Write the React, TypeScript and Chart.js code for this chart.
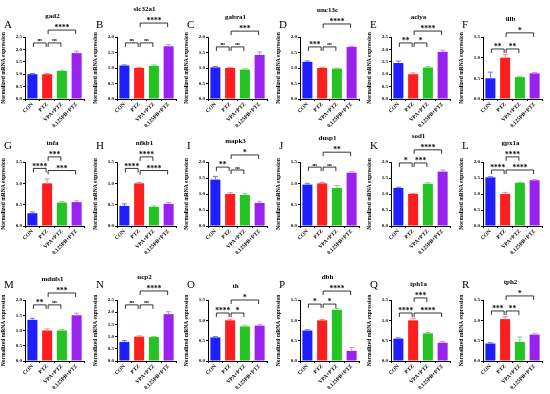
import React, { useEffect, useRef } from "react";
import { Chart, registerables } from "chart.js";
Chart.register(...registerables);

const categories = ["CON", "PTZ", "VPA+PTZ", "0.125PB+PTZ"];
const panelLetters = ["A", "B", "C", "D", "E", "F", "G", "H", "I", "J", "K", "L", "M", "N", "O", "P", "Q", "R"];
const geneNames = ["gad2", "slc32a1", "gabra1", "unc13c", "aclya", "illb", "tnfa", "nfkb1", "mapk3", "dusp1", "sod1", "gpx1a", "mdufs1", "ucp2", "th", "dbh", "tph1a", "tph2"];
const axisMax = [2.5, 2, 2, 2, 2.5, 1.5, 1.5, 1.5, 2, 1.5, 2, 2, 2, 2.5, 1.5, 1.5, 1.5, 1.5];
const yTitle = "Normalized mRNA expression";

const meanValues = [
  [1.0, 1.0, 1.13, 1.85],
  [1.08, 1.0, 1.07, 1.7],
  [1.02, 1.0, 0.95, 1.42],
  [1.2, 1.0, 0.98, 1.68],
  [1.45, 1.0, 1.27, 1.9],
  [0.5, 1.0, 0.53, 0.62],
  [0.3, 1.0, 0.55, 0.56],
  [0.47, 1.0, 0.45, 0.52],
  [1.45, 1.0, 0.97, 0.72],
  [0.97, 1.0, 0.89, 1.25],
  [1.19, 1.0, 1.32, 1.7],
  [1.52, 1.0, 1.35, 1.43],
  [1.35, 1.0, 1.0, 1.5],
  [0.78, 1.0, 0.98, 1.92],
  [0.58, 1.0, 0.85, 0.87],
  [0.75, 1.0, 1.26, 0.25],
  [0.55, 1.0, 0.68, 0.45],
  [0.43, 1.03, 0.47, 0.65],
];

const errorValues = [
  [0.03, 0.03, 0.03, 0.08],
  [0.02, 0.02, 0.03, 0.05],
  [0.03, 0.02, 0.02, 0.1],
  [0.03, 0.02, 0.02, 0.02],
  [0.08, 0.05, 0.04, 0.07],
  [0.15, 0.08, 0.02, 0.02],
  [0.03, 0.1, 0.02, 0.03],
  [0.05, 0.02, 0.02, 0.03],
  [0.1, 0.04, 0.04, 0.05],
  [0.03, 0.02, 0.06, 0.02],
  [0.02, 0.02, 0.03, 0.05],
  [0.02, 0.05, 0.02, 0.02],
  [0.05, 0.05, 0.03, 0.07],
  [0.06, 0.03, 0.02, 0.1],
  [0.02, 0.03, 0.03, 0.03],
  [0.02, 0.02, 0.03, 0.08],
  [0.02, 0.05, 0.02, 0.03],
  [0.02, 0.06, 0.12, 0.02],
];

// [from, to, label, level]
type Bracket = [number, number, string, number];
const brackets: Bracket[][] = [
  [[0, 1, "ns", 2.26], [1, 2, "ns", 2.26], [1, 3, "****", 2.78]],
  [[0, 1, "ns", 1.81], [1, 2, "ns", 1.81], [1, 3, "****", 2.45]],
  [[0, 1, "ns", 1.68], [1, 2, "ns", 1.68], [1, 3, "***", 2.19]],
  [[0, 1, "***", 1.68], [1, 2, "ns", 1.68], [1, 3, "****", 2.42]],
  [[0, 1, "**", 2.26], [1, 2, "*", 2.26], [1, 3, "****", 2.74]],
  [[0, 1, "**", 1.21], [1, 2, "**", 1.21], [1, 3, "*", 1.6]],
  [[0, 1, "****", 1.35], [1, 2, "***", 1.62], [1, 3, "***", 1.3]],
  [[0, 1, "****", 1.35], [1, 2, "****", 1.62], [1, 3, "****", 1.3]],
  [[0, 1, "**", 1.84], [1, 2, "ns", 1.75], [1, 3, "*", 2.22]],
  [[0, 1, "ns", 1.38], [1, 2, "ns", 1.38], [1, 3, "**", 1.73]],
  [[0, 1, "*", 1.97], [1, 2, "***", 1.97], [1, 3, "****", 2.38]],
  [[0, 1, "****", 1.75], [1, 2, "****", 2.16], [1, 3, "****", 1.75]],
  [[0, 1, "**", 1.84], [1, 2, "ns", 1.84], [1, 3, "***", 2.23]],
  [[0, 1, "ns", 2.3], [1, 2, "ns", 2.3], [1, 3, "****", 2.87]],
  [[0, 1, "****", 1.18], [1, 2, "*", 1.18], [1, 3, "*", 1.5]],
  [[0, 1, "*", 1.4], [1, 2, "*", 1.4], [1, 3, "****", 1.72]],
  [[0, 1, "****", 1.18], [1, 2, "***", 1.55], [1, 3, "****", 1.18]],
  [[0, 1, "***", 1.23], [1, 2, "**", 1.23], [1, 3, "*", 1.6]],
];

const barColors = ["#1e1eff", "#ff1e1e", "#22c322", "#9a22ee"];
const errColors = ["#7070ff", "#ff7a9a", "#70e070", "#c58cff"];

const SERIF = "'Liberation Serif', 'Times New Roman', serif";
const COL_W = 91.6;
const CANVAS_W = 91;
const rowTop = [0, 130, 262];
const rowHeight = [128, 125, 128];
const padTop = [37, 32, 38];
const letterY = [25, 16, 23];

function Panel({ idx }: { idx: number }) {
  const ref = useRef<HTMLCanvasElement>(null);
  const row = Math.floor(idx / 6);
  const col = idx % 6;
  const H = rowHeight[row];

  useEffect(() => {
    const vals = meanValues[idx];
    const errs = errorValues[idx];
    const brs = brackets[idx];
    const overlay = {
      id: "overlay" + idx,
      afterDatasetsDraw(chart: any) {
        const ctx = chart.ctx as CanvasRenderingContext2D;
        const xs = chart.scales.x;
        const ys = chart.scales.y;
        const meta = chart.getDatasetMeta(0);
        ctx.save();
        // error bars
        meta.data.forEach((bar: any, i: number) => {
          const base = ys.getPixelForValue(vals[i]);
          const top = ys.getPixelForValue(vals[i] + errs[i]);
          ctx.strokeStyle = errColors[i];
          ctx.lineWidth = 1;
          ctx.beginPath();
          ctx.moveTo(bar.x, base);
          ctx.lineTo(bar.x, top);
          ctx.moveTo(bar.x - 2.5, top);
          ctx.lineTo(bar.x + 2.5, top);
          ctx.stroke();
        });
        // significance brackets
        let minY = Infinity;
        brs.forEach(([a, b, label, level]) => {
          const x1 = xs.getPixelForValue(a) + 1;
          const x2 = xs.getPixelForValue(b) - 1;
          const yy = ys.getPixelForValue(level);
          minY = Math.min(minY, yy);
          ctx.strokeStyle = "#000";
          ctx.lineWidth = 0.8;
          ctx.beginPath();
          ctx.moveTo(x1, yy + 4);
          ctx.lineTo(x1, yy);
          ctx.lineTo(x2, yy);
          ctx.lineTo(x2, yy + 4);
          ctx.stroke();
          ctx.fillStyle = "#000";
          ctx.textAlign = "center";
          ctx.textBaseline = "alphabetic";
          if (label === "ns") {
            ctx.font = `bold 5px ${SERIF}`;
            ctx.fillText(label, (x1 + x2) / 2, yy - 1.5);
          } else {
            ctx.font = `bold 7.5px ${SERIF}`;
            ctx.fillText(label, (x1 + x2) / 2, yy + 0.2);
          }
        });
        // gene title
        ctx.fillStyle = "#000";
        ctx.font = `bold 7px ${SERIF}`;
        ctx.textAlign = "center";
        ctx.textBaseline = "middle";
        const ca = chart.chartArea;
        ctx.fillText(geneNames[idx], (ca.left + ca.right) / 2 - 2, Math.max(6, minY - 14));
        // panel letter
        ctx.font = `11px ${SERIF}`;
        ctx.textAlign = "left";
        ctx.fillText(panelLetters[idx], 4, letterY[row]);
        ctx.restore();
      },
    };

    const chart = new Chart(ref.current as HTMLCanvasElement, {
      type: "bar",
      data: {
        labels: categories,
        datasets: [
          {
            data: vals,
            backgroundColor: barColors,
            borderWidth: 0,
            categoryPercentage: 1,
            barPercentage: 0.68,
          },
        ],
      },
      options: {
        responsive: false,
        animation: false,
        devicePixelRatio: 1,
        layout: { padding: { top: padTop[row], right: 7, left: 0, bottom: 0 } },
        plugins: { legend: { display: false }, tooltip: { enabled: false }, title: { display: false } },
        scales: {
          x: {
            grid: { drawOnChartArea: false, drawTicks: true, tickLength: 2, color: "#000" },
            border: { display: true, color: "#000", width: 1 },
            ticks: {
              minRotation: 45,
              maxRotation: 45,
              padding: 0,
              color: "#000",
              font: { family: SERIF, size: 5.5, weight: "bold" },
            },
            afterFit: (s: any) => {
              s.height = 29;
            },
          },
          y: {
            min: 0,
            max: axisMax[idx],
            grid: { drawOnChartArea: false, drawTicks: true, tickLength: 2, color: "#000" },
            border: { display: true, color: "#000", width: 1 },
            ticks: {
              stepSize: 0.5,
              padding: 1,
              color: "#000",
              font: { family: SERIF, size: 5, weight: "bold" },
              callback: (v: any) => Number(v).toFixed(1),
            },
            title: {
              display: true,
              text: yTitle,
              color: "#000",
              padding: 0,
              font: { family: SERIF, size: 5.5, weight: "bold" },
            },
            afterFit: (s: any) => {
              s.width = 25;
            },
          },
        },
      },
      plugins: [overlay],
    } as any);
    return () => chart.destroy();
  }, [idx, row]);

  return (
    <canvas
      ref={ref}
      width={CANVAS_W}
      height={H}
      style={{
        position: "absolute",
        left: Math.round(col * COL_W),
        top: rowTop[row],
        width: CANVAS_W,
        height: H,
      }}
    />
  );
}

export default function App() {
  return (
    <div
      style={{
        position: "absolute",
        left: 0,
        top: 0,
        width: 550,
        height: 394,
        background: "#fff",
        overflow: "hidden",
      }}
    >
      {panelLetters.map((_, i) => (
        <Panel key={i} idx={i} />
      ))}
    </div>
  );
}
